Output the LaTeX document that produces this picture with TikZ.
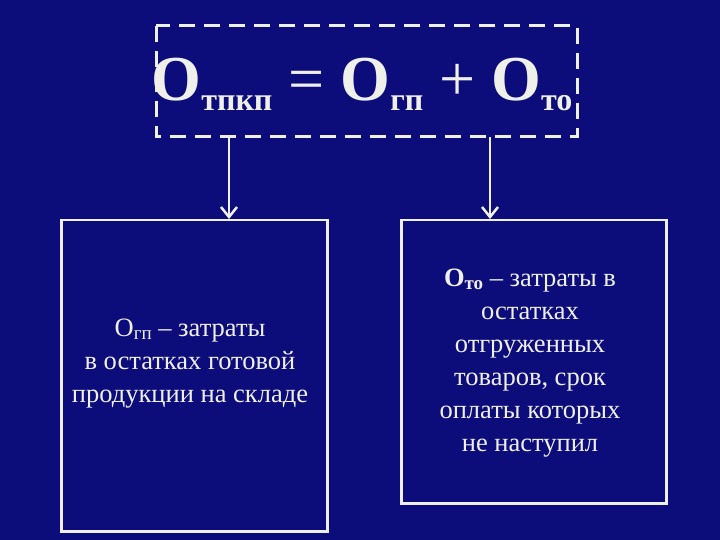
\documentclass[tikz,border=0pt]{standalone}
\usepackage{fontspec}
\usetikzlibrary{arrows.meta}
\setmainfont{Liberation Serif}
\definecolor{bg}{RGB}{12,12,122}
\definecolor{fg}{RGB}{240,240,235}
\begin{document}
\begin{tikzpicture}[x=1pt,y=-1pt,
  box/.style={draw=fg,line width=2.5pt},
  txt/.style={text=fg,font=\fontsize{26.5}{33}\selectfont,align=center},
  arr/.style={draw=fg,line width=2.5pt,-{Straight Barb[length=10pt,width=16pt,line width=2.5pt]}}]
\fill[bg] (0,0) rectangle (720,540);
\useasboundingbox (0,0) rectangle (720,540);
\draw[draw=fg,line width=3pt,dash pattern=on 16pt off 9pt] (156,26) rectangle (577,137);
\node[text=fg,anchor=center] (f) at (362,84) {\fontsize{64}{66}\selectfont\textbf{О}\raisebox{-10pt}{\fontsize{32}{36}\selectfont\textbf{тпкп}} = \textbf{О}\raisebox{-10pt}{\fontsize{32}{36}\selectfont\textbf{гп}} + \textbf{О}\raisebox{-10pt}{\fontsize{32}{36}\selectfont\textbf{то}}};
\coordinate (t) at (229,137); \coordinate (u) at (490,137);
\node[box,minimum width=266pt,minimum height=311pt,anchor=north west] (L) at (60,219) {};
\node[box,minimum width=265pt,minimum height=283pt,anchor=north west] (R) at (400,219) {};
\draw[arr] (t) -- (t|-L.north);
\draw[arr] (u) -- (u|-R.north);
\node[txt] (lt) at (190,364) {О\raisebox{-3pt}{\fontsize{19}{20}\selectfont гп} – затраты\\в остатках готовой\\продукции на складе};
\node[txt] (rt) at (530,363) {\textbf{О}\raisebox{-3pt}{\fontsize{19}{20}\selectfont\textbf{то}} – затраты в\\остатках\\отгруженных\\товаров, срок\\оплаты которых\\не наступил};
\end{tikzpicture}
\end{document}
